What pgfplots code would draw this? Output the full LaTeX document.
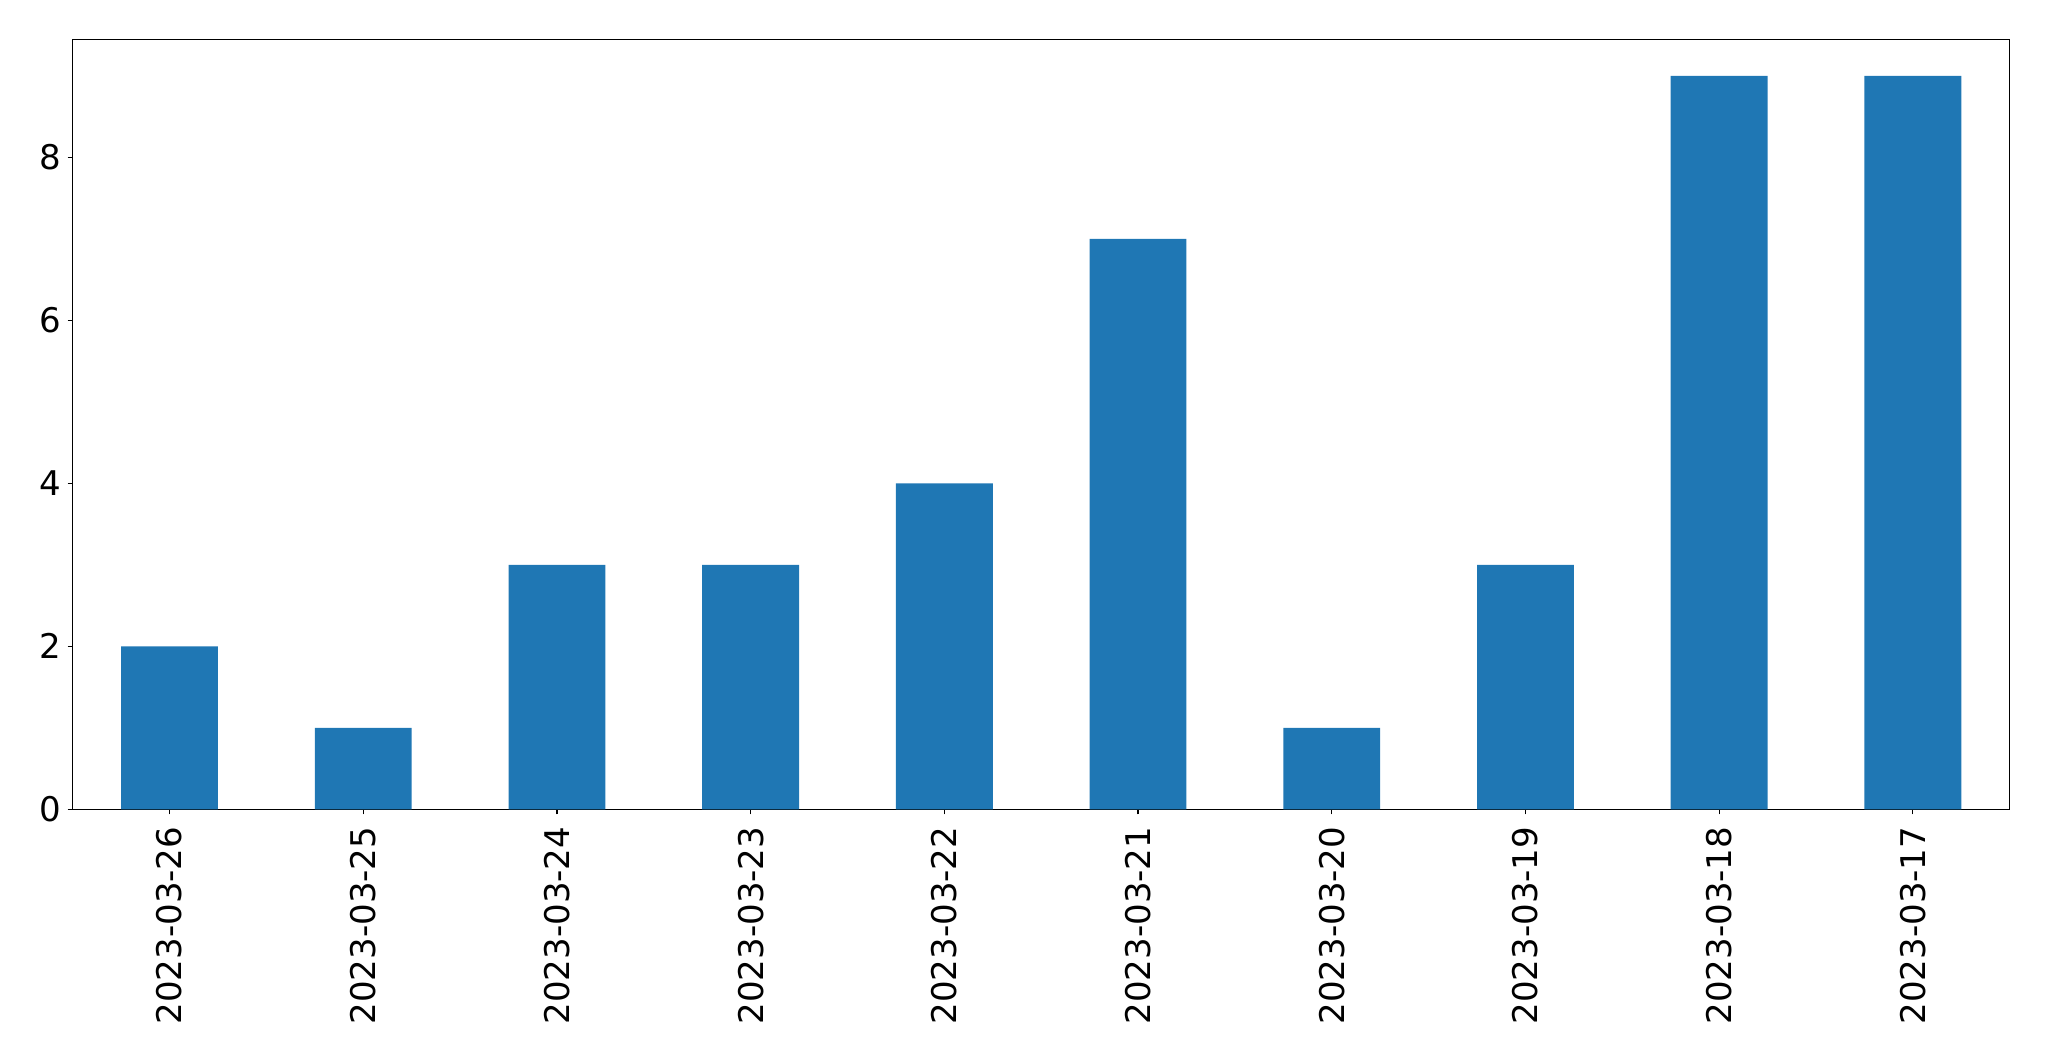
\documentclass[border=0pt]{standalone}
\usepackage{fontspec}
\setmainfont{DejaVu Sans}
\usepackage{pgfplots}
\pgfplotsset{compat=1.18}
\definecolor{mplblue}{HTML}{1F77B4}
\begin{document}
\begin{tikzpicture}
\begin{axis}[
  scale only axis,
  width=968.5pt, height=385pt,
  xmin=-0.5, xmax=9.5,
  ymin=0, ymax=9.45,
  axis line style={line width=0.6pt},
  every tick/.style={black, line width=0.6pt},
  tick align=outside,
  major tick length=2.5pt,
  xtick={0,...,9},
  xticklabels={2023-03-26,2023-03-25,2023-03-24,2023-03-23,2023-03-22,2023-03-21,2023-03-20,2023-03-19,2023-03-18,2023-03-17},
  ytick={0,2,4,6,8},
  xtick pos=bottom, ytick pos=left,
  /pgf/number format/assume math mode=true,
  tick label style={font=\fontsize{17}{20}\selectfont},
  xticklabel style={yshift=-6pt, rotate=90, anchor=east, inner sep=0pt},
  yticklabel style={inner sep=0pt, xshift=-3pt},
  ybar, bar width=0.5,
]
\addplot[fill=mplblue, draw=none] coordinates {
(0,2) (1,1) (2,3) (3,3) (4,4) (5,7) (6,1) (7,3) (8,9) (9,9)
};
\end{axis}
\path ([shift={(-36.35pt,-125.85pt)}]current axis.south west) rectangle ([shift={(19.65pt,19.65pt)}]current axis.north east);
\end{tikzpicture}
\end{document}
